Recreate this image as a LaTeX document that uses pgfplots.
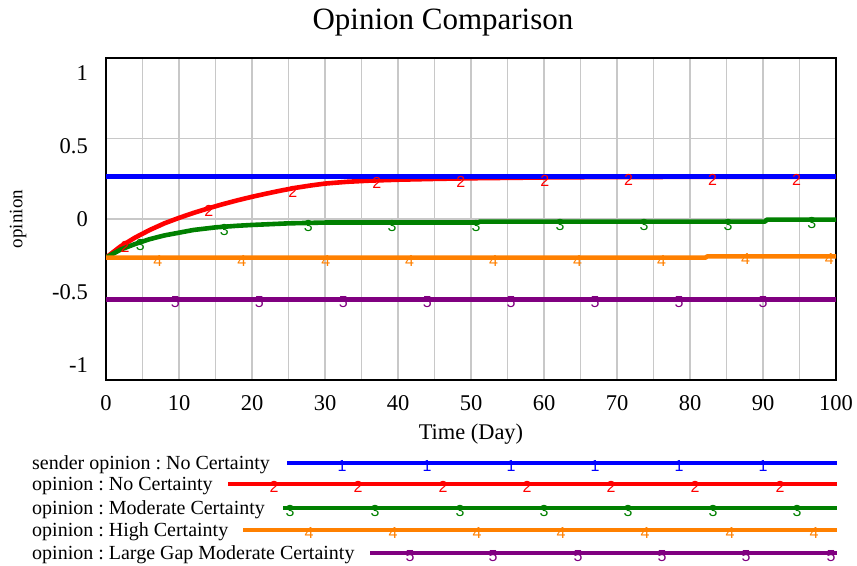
\documentclass[border=0pt]{standalone}
\usepackage{fontspec}
\setmainfont{Liberation Serif}
\newfontfamily\markfont{Liberation Sans}
\usepackage{pgfplots}
\pgfplotsset{compat=1.18}
\definecolor{vblue}{RGB}{0,0,255}
\definecolor{vred}{RGB}{255,0,0}
\definecolor{vgreen}{RGB}{0,128,0}
\definecolor{vorange}{RGB}{255,128,0}
\definecolor{vpurple}{RGB}{128,0,128}
\definecolor{gridgray}{RGB}{200,200,200}
\pgfplotsset{
  dmark/.style 2 args={only marks, mark=text, text mark={#1}, text mark as node=true,
    text mark style={font=\markfont\fontsize{16bp}{18bp}\selectfont, yshift=-3bp, inner sep=0pt, text=#2}},
}
\frenchspacing
\begin{document}
\frenchspacing
\begin{tikzpicture}
\useasboundingbox (0,0) rectangle (857bp,-566bp);
\begin{axis}[
  at={(106bp,-380bp)}, anchor=south west,
  scale only axis, width=730bp, height=322bp,
  xmin=0, xmax=100, ymin=-1, ymax=1,
  xtick={0,10,...,100}, minor xtick={5,15,...,95},
  ytick={-1,-0.5,0,0.5,1},
  grid=both,
  major grid style={gridgray, line width=1.3bp},
  minor grid style={gridgray, line width=1.3bp},
  major tick length=0pt, minor tick length=0pt,
  axis line style={line width=2.6bp, black},
  tick label style={font=\fontsize{22.5bp}{27bp}\selectfont},
  /pgf/number format/assume math mode=true,
  xticklabel style={inner sep=0pt, yshift=-15bp},
  yticklabel style={inner sep=0pt, xshift=-18bp, yshift={(2-\ticknum)*7.5bp}},
  title={Opinion Comparison},
  title style={font=\fontsize{31bp}{36bp}\selectfont, at={(axis description cs:0.4616,1)}, anchor=base, yshift=23bp},
  xlabel={Time (Day)},
  xlabel style={font=\fontsize{22.4bp}{27bp}\selectfont, at={(axis description cs:0.5,0)}, anchor=base, yshift=-59bp},
  ylabel={opinion},
  ylabel style={font=\fontsize{19bp}{23bp}\selectfont, at={(axis description cs:-0.1205,0.5)}, anchor=center},
  every axis plot/.append style={line width=4.6bp, line join=round},
]
% opinion : No Certainty
\addplot[vred] coordinates {(0,-0.24) (2,-0.17) (4,-0.115) (6,-0.068) (8,-0.027) (10,0.007) (12,0.038) (14,0.066) (16,0.092) (18,0.116) (20,0.138) (22,0.158) (24,0.177) (26,0.194) (28,0.208) (30,0.22) (33,0.231) (36,0.238) (40,0.244) (45,0.249) (50,0.253) (60,0.258) (70,0.261) (100,0.262)};
% sender opinion : No Certainty
\addplot[vblue] coordinates {(0,0.265) (100,0.265)};
% opinion : Moderate Certainty
\addplot[vgreen] coordinates {(0,-0.24) (2,-0.19) (4,-0.155) (6,-0.125) (8,-0.102) (10,-0.085) (12,-0.068) (15,-0.052) (18,-0.042) (20,-0.037) (25,-0.027) (30,-0.022) (51,-0.022) (51.2,-0.016) (90.3,-0.016) (90.5,-0.004) (100,-0.004)};
% opinion : High Certainty
\addplot[vorange] coordinates {(0,-0.24) (82.1,-0.24) (82.4,-0.232) (100,-0.232)};
% opinion : Large Gap Moderate Certainty
\addplot[vpurple] coordinates {(0,-0.5) (100,-0.5)};
% number markers
\addplot[vred, dmark={2}{vred}] coordinates {(2.6,-0.155) (14.1,0.067) (25.6,0.19) (37.1,0.24) (48.6,0.252) (60.1,0.258) (71.6,0.261) (83.1,0.262) (94.6,0.262)};
\addplot[vgreen, dmark={3}{vgreen}] coordinates {(4.7,-0.145) (16.2,-0.049) (27.7,-0.024) (39.2,-0.022) (50.7,-0.022) (62.2,-0.016) (73.7,-0.016) (85.2,-0.016) (96.7,-0.004)};
\addplot[vorange, dmark={4}{vorange}] coordinates {(7.1,-0.24) (18.6,-0.24) (30.1,-0.24) (41.6,-0.24) (53.1,-0.24) (64.6,-0.24) (76.1,-0.24) (87.6,-0.232) (99.1,-0.232)};
\addplot[vpurple, dmark={5}{vpurple}] coordinates {(9.5,-0.5) (21,-0.5) (32.5,-0.5) (44,-0.5) (55.5,-0.5) (67,-0.5) (78.5,-0.5) (90,-0.5)};
\end{axis}

% legend
\begin{axis}[
  at={(0bp,-566bp)}, anchor=south west,
  scale only axis, width=857bp, height=121bp,
  xmin=0, xmax=857, ymin=-566, ymax=-445,
  hide axis, clip=false,
  every axis plot/.append style={line width=4bp},
]
\addplot[vblue] coordinates {(287,-462.7) (837,-462.7)};
\addplot[vred] coordinates {(228,-484) (837,-484)};
\addplot[vgreen] coordinates {(283,-507.7) (837,-507.7)};
\addplot[vorange] coordinates {(243,-530) (837,-530)};
\addplot[vpurple] coordinates {(370,-553.3) (837,-553.3)};
\addplot[vblue, dmark={1}{vblue}] coordinates {(342,-462.7) (427,-462.7) (511,-462.7) (595,-462.7) (679,-462.7) (763,-462.7)};
\addplot[vred, dmark={2}{vred}] coordinates {(274,-484) (358,-484) (443,-484) (527,-484) (611,-484) (695,-484) (780,-484)};
\addplot[vgreen, dmark={3}{vgreen}] coordinates {(290,-507.7) (375,-507.7) (460,-507.7) (544,-507.7) (628,-507.7) (713,-507.7) (797,-507.7)};
\addplot[vorange, dmark={4}{vorange}] coordinates {(309,-530) (393,-530) (477,-530) (561,-530) (645,-530) (730,-530) (814,-530)};
\addplot[vpurple, dmark={5}{vpurple}] coordinates {(410,-553.3) (493,-553.3) (578,-553.3) (662,-553.3) (746,-553.3) (831,-553.3)};
\node[anchor=base west, inner sep=0pt, font=\fontsize{20bp}{24bp}\selectfont] at (axis cs:32,-469.2) {sender opinion : No Certainty};
\node[anchor=base west, inner sep=0pt, font=\fontsize{20bp}{24bp}\selectfont] at (axis cs:32,-490.5) {opinion : No Certainty};
\node[anchor=base west, inner sep=0pt, font=\fontsize{20bp}{24bp}\selectfont] at (axis cs:32,-514.2) {opinion : Moderate Certainty};
\node[anchor=base west, inner sep=0pt, font=\fontsize{20bp}{24bp}\selectfont] at (axis cs:32,-536.5) {opinion : High Certainty};
\node[anchor=base west, inner sep=0pt, font=\fontsize{20bp}{24bp}\selectfont] at (axis cs:32,-559.8) {opinion : Large Gap Moderate Certainty};
\end{axis}
\end{tikzpicture}
\end{document}
